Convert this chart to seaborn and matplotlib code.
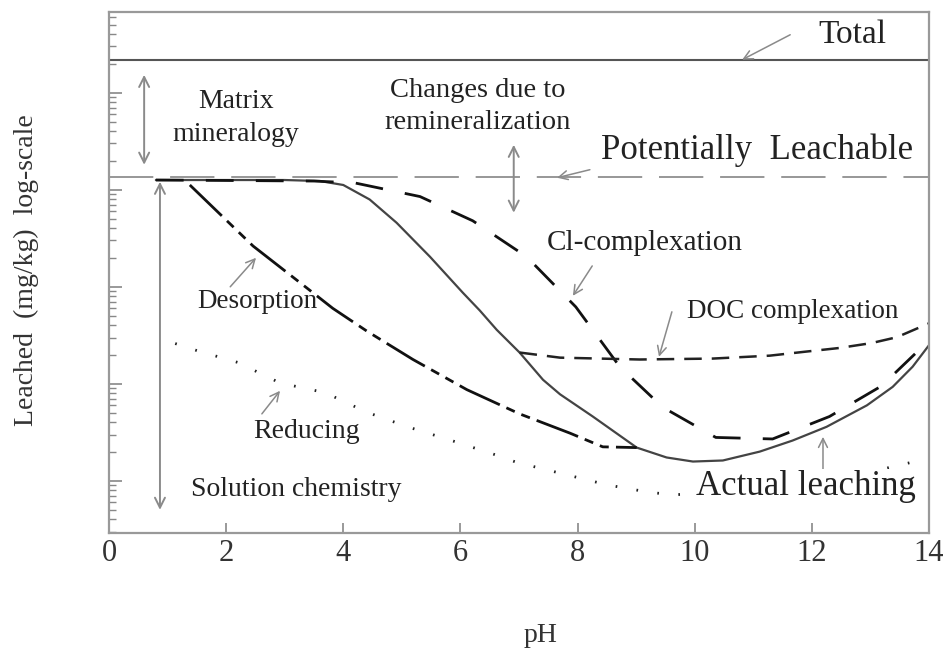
import numpy as np
import matplotlib

matplotlib.use("Agg")
import matplotlib.pyplot as plt
import matplotlib.ticker as mticker
import seaborn as sns

# pH axis values and leached amounts (mg/kg, arbitrary log-scale units)
ph_flat = [0.0, 14.0]
total_level = [21900, 21900]
leachable_level = [1350, 1350]

actual_ph = [0.8, 2.0, 3.0, 3.6, 4.0, 4.45, 4.91, 5.48, 6.04, 6.33, 6.62, 7.01, 7.41,
             7.70, 8.26, 9.01, 9.52, 9.97, 10.48, 11.11, 11.67, 12.25, 12.94, 13.38,
             13.72, 14.0]
actual_val = [1260, 1260, 1260, 1230, 1120, 794, 457, 204, 87, 57, 36, 21, 11,
              7.8, 4.6, 2.2, 1.74, 1.58, 1.62, 2.0, 2.6, 3.6, 6.0, 9.3,
              15, 25]

cl_ph = [0.8, 3.5, 4.2, 5.31, 6.21, 7.13, 7.97, 8.72, 9.45, 10.36, 11.33, 12.30, 13.19, 14.0]
cl_val = [1260, 1230, 1175, 851, 479, 204, 62, 15, 5.75, 2.8, 2.7, 4.6, 9.5, 28]

doc_ph = [7.01, 7.70, 9.06, 10.31, 11.28, 11.88, 12.47, 13.02, 13.45, 14.0]
doc_val = [21, 18.6, 17.8, 18.2, 19.5, 21.4, 23.4, 26.3, 30.2, 42]

desorp_ph = [1.38, 2.46, 3.48, 3.82, 4.40, 5.19, 6.11, 7.01, 7.87, 8.43, 9.01]
desorp_val = [1120, 263, 87, 60, 35, 17.8, 8.7, 4.9, 3.1, 2.24, 2.2]

reduc_ph = [1.13, 1.50, 2.20, 2.92, 3.69, 4.40, 5.10, 5.85, 6.59, 6.96, 7.70, 8.50,
            9.23, 9.62, 10.5, 11.5, 12.5, 13.7]
reduc_val = [26, 22, 16.6, 10.2, 8.1, 5.1, 3.6, 2.6, 1.86, 1.55, 1.2, 0.91,
             0.76, 0.72, 0.74, 0.85, 1.05, 1.55]

xticks = [0, 2, 4, 6, 8, 10, 12, 14]

sns.set_theme(style="white")
plt.rcParams["font.family"] = ["Liberation Serif", "DejaVu Serif"]

fig = plt.figure(figsize=(9.47, 6.51), dpi=100)
ax = fig.add_axes([0.1151, 0.1813, 0.8659, 0.8003])
ax.set_yscale("log")

gray = "#555555"
arrow_gray = "#8a8a8a"

sns.lineplot(x=ph_flat, y=total_level, ax=ax, color=gray, linewidth=1.5)
sns.lineplot(x=ph_flat, y=leachable_level, ax=ax, color="#7a7a7a", linewidth=1.1,
             linestyle=(0, (29, 11)))
sns.lineplot(x=reduc_ph, y=reduc_val, ax=ax, color="#222222", linewidth=2.0,
             linestyle=(0, (0.6, 7.0)))
sns.lineplot(x=actual_ph, y=actual_val, ax=ax, color="#444444", linewidth=1.6)
sns.lineplot(x=cl_ph, y=cl_val, ax=ax, color="#111111", linewidth=2.0,
             linestyle=(0, (10, 8)))
sns.lineplot(x=doc_ph, y=doc_val, ax=ax, color="#222222", linewidth=1.8,
             linestyle=(0, (7, 4)))
sns.lineplot(x=desorp_ph, y=desorp_val, ax=ax, color="#111111", linewidth=2.0,
             linestyle=(0, (16, 2.6, 3.3, 2.6, 3.3, 2.6)))

ax.set_xlim(0, 14)
ax.set_ylim(0.29, 68000)

# arrows
one_way = dict(arrowstyle="->", color=arrow_gray, lw=1.1, mutation_scale=16,
               shrinkA=0, shrinkB=0)
two_way = dict(arrowstyle="<->", color=arrow_gray, lw=1.4, mutation_scale=18,
               shrinkA=0, shrinkB=0)
ax.annotate("", xy=(10.81, 21900), xytext=(11.63, 39600), arrowprops=one_way)
ax.annotate("", xy=(7.65, 1330), xytext=(8.21, 1610), arrowprops=one_way)
ax.annotate("", xy=(7.92, 80.7), xytext=(8.25, 164), arrowprops=one_way)
ax.annotate("", xy=(9.39, 19.0), xytext=(9.61, 55.2), arrowprops=one_way)
ax.annotate("", xy=(2.51, 199), xytext=(2.07, 100), arrowprops=one_way)
ax.annotate("", xy=(2.92, 8.47), xytext=(2.61, 4.9), arrowprops=one_way)
ax.annotate("", xy=(12.19, 2.84), xytext=(12.19, 0.977), arrowprops=one_way)
ax.annotate("", xy=(0.60, 15300), xytext=(0.60, 1810), arrowprops=two_way)
ax.annotate("", xy=(0.87, 1210), xytext=(0.87, 0.502), arrowprops=two_way)
ax.annotate("", xy=(6.91, 2910), xytext=(6.91, 580), arrowprops=two_way)

# labels
tc = "#222222"
ax.text(12.69, 39600, "Total", fontsize=24, ha="center", va="center", color=tc)
ax.text(2.17, 5520, "Matrix\nmineralogy", fontsize=20, ha="center", va="center",
        linespacing=1.45, color=tc)
ax.text(6.30, 7180, "Changes due to\nremineralization", fontsize=20.5, ha="center",
        va="center", linespacing=1.35, color=tc)
ax.text(11.06, 2580, "Potentially  Leachable", fontsize=25, ha="center", va="center",
        color=tc)
ax.text(9.15, 284, "Cl-complexation", fontsize=21, ha="center", va="center", color=tc)
ax.text(11.68, 56, "DOC complexation", fontsize=19.5, ha="center", va="center", color=tc)
ax.text(2.53, 70, "Desorption", fontsize=19.5, ha="center", va="center", color=tc)
ax.text(3.38, 3.2, "Reducing", fontsize=20, ha="center", va="center", color=tc)
ax.text(3.19, 0.81, "Solution chemistry", fontsize=20, ha="center", va="center", color=tc)
ax.text(11.90, 0.867, "Actual leaching", fontsize=25, ha="center", va="center", color=tc,
        bbox=dict(facecolor="white", edgecolor="none", pad=1))

ax.set_xticks(xticks)
ax.set_xticklabels([str(t) for t in xticks])
ax.yaxis.set_major_locator(mticker.LogLocator(base=10, numticks=20))
ax.yaxis.set_minor_locator(mticker.LogLocator(base=10, subs=np.arange(2, 10), numticks=100))
ax.yaxis.set_major_formatter(mticker.NullFormatter())
ax.yaxis.set_minor_formatter(mticker.NullFormatter())
ax.tick_params(axis="x", which="major", direction="in", length=7, width=1.2,
               colors="#888888", labelcolor="#333333", labelsize=22, pad=4,
               bottom=True, top=False)
ax.tick_params(axis="y", which="major", direction="in", length=9, width=1.2,
               colors="#888888", left=True, right=False)
ax.tick_params(axis="y", which="minor", direction="in", length=5, width=1.0,
               colors="#888888", left=True, right=False)

for s in ax.spines.values():
    s.set_color("#999999")
    s.set_linewidth(1.6)

ax.set_xlabel("pH", fontsize=20, color="#333333")
ax.set_ylabel("Leached  (mg/kg)  log-scale", fontsize=20, color="#333333")
ax.xaxis.set_label_coords(0.526, -0.172)
ax.yaxis.set_label_coords(-0.085, 0.505)

fig.savefig("out.png", dpi=100, facecolor="white")
plt.close(fig)
